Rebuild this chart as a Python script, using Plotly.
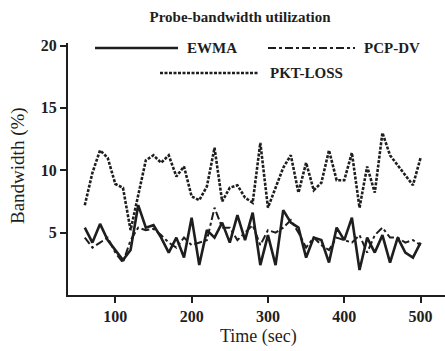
import plotly.graph_objects as go

time_sec = [60, 70, 80, 90, 100, 110, 120, 130, 140, 150, 160, 170, 180, 190, 200,
            210, 220, 230, 240, 250, 260, 270, 280, 290, 300, 310, 320, 330, 340, 350,
            360, 370, 380, 390, 400, 410, 420, 430, 440, 450, 460, 470, 480, 490, 500]

ewma = [5.4, 4.2, 5.7, 4.4, 3.6, 2.8, 3.6, 7.2, 5.4, 5.6, 4.6, 3.4, 4.6, 3.0, 6.2,
        2.4, 5.2, 4.6, 5.8, 4.2, 6.4, 4.4, 6.6, 2.4, 4.8, 2.4, 6.8, 5.8, 5.4, 3.0,
        4.6, 4.4, 2.6, 5.4, 4.4, 6.2, 2.0, 4.6, 3.4, 4.8, 2.6, 4.6, 3.4, 3.0, 4.2]

pcp_dv = [4.6, 3.8, 4.2, 4.6, 3.4, 2.6, 4.4, 5.4, 5.2, 5.3, 4.8, 4.2, 3.8, 4.6, 4.0,
          4.2, 4.4, 7.0, 5.4, 5.4, 4.4, 5.0, 5.6, 4.0, 5.2, 5.0, 5.4, 6.0, 5.0, 3.8,
          4.6, 4.0, 3.6, 4.6, 4.4, 4.2, 4.8, 3.4, 4.8, 5.4, 4.6, 4.6, 4.2, 4.4, 4.0]

pkt_loss = [7.2, 9.8, 11.6, 11.0, 8.9, 8.6, 5.2, 8.0, 10.8, 11.2, 10.6, 11.2, 9.5, 10.3, 7.9,
            7.6, 8.7, 11.8, 7.5, 8.6, 8.8, 7.8, 7.4, 12.2, 7.0, 8.6, 10.2, 11.2, 8.2, 10.6,
            8.4, 9.0, 11.6, 9.2, 9.2, 11.4, 7.0, 10.3, 8.2, 13.0, 11.2, 10.4, 9.6, 8.8, 11.0]

series_names = ["EWMA", "PCP-DV", "PKT-LOSS"]
x_ticks = [100, 200, 300, 400, 500]
y_ticks = [5, 10, 15, 20]

INK = "#1e1e1e"
SERIF = "Liberation Serif, Times New Roman, serif"
styles = {
    "EWMA": dict(width=2.6, dash="solid"),
    "PCP-DV": dict(width=2.0, dash="8px,3px,3px,3px"),
    "PKT-LOSS": dict(width=2.6, dash="3px,1.5px"),
}

fig = go.Figure()
for name, vals in zip(series_names, [ewma, pcp_dv, pkt_loss]):
    fig.add_trace(go.Scatter(x=time_sec, y=vals, mode="lines", name=name,
                             line=dict(color=INK, **styles[name]),
                             showlegend=False))

W, H = 445, 351
L, R, T, B = 68, 0, 43, 56
pw, ph = W - L - R, H - T - B

def px(xp):
    return (xp - L) / pw

def py(yp):
    return (H - B - yp) / ph

# manual legend (samples + labels)
legend_items = [
    ("EWMA", 95, 178, 48, 185),
    ("PCP-DV", 268, 355, 48, 362),
    ("PKT-LOSS", 160, 258, 73, 268),
]
for name, x0, x1, yy, tx in legend_items:
    fig.add_shape(type="line", xref="paper", yref="paper",
                  x0=px(x0), x1=px(x1), y0=py(yy), y1=py(yy),
                  line=dict(color=INK, **styles[name]))
    fig.add_annotation(xref="paper", yref="paper", x=px(tx), y=py(yy),
                       text=f"<b>{name}</b>", showarrow=False,
                       xanchor="left", yanchor="middle",
                       font=dict(family=SERIF, size=15, color=INK))

# axis titles
fig.add_annotation(xref="paper", yref="paper", x=px(258), y=py(336),
                   text="Time (sec)", showarrow=False,
                   xanchor="center", yanchor="middle",
                   font=dict(family=SERIF, size=18, color=INK))
fig.add_annotation(xref="paper", yref="paper", x=px(18), y=py(165),
                   text="Bandwidth (%)", showarrow=False, textangle=-90,
                   xanchor="center", yanchor="middle",
                   font=dict(family=SERIF, size=19, color=INK))

fig.update_layout(
    width=W, height=H,
    margin=dict(l=L, r=R, t=T, b=B),
    paper_bgcolor="white", plot_bgcolor="white",
    title=dict(text="<b>Probe-bandwidth utilization</b>",
               x=240 / W, xanchor="center", xref="container",
               y=1 - 17 / H, yanchor="middle", yref="container",
               font=dict(family=SERIF, size=15, color=INK)),
    font=dict(family=SERIF, color=INK),
)
fig.update_xaxes(range=[38, 532], tickvals=x_ticks,
                 ticktext=[f"<b>{v}</b>" for v in x_ticks],
                 showgrid=False, zeroline=False,
                 showline=True, linecolor=INK, linewidth=2,
                 ticks="outside", ticklen=6, tickwidth=2, tickcolor=INK,
                 tickfont=dict(family=SERIF, size=16, color=INK))
fig.update_yaxes(range=[0, 20.2], tickvals=y_ticks,
                 ticktext=[f"<b>{v}</b>" for v in y_ticks],
                 showgrid=False, zeroline=False,
                 showline=True, linecolor=INK, linewidth=2,
                 ticks="outside", ticklen=6, tickwidth=2, tickcolor=INK,
                 tickfont=dict(family=SERIF, size=16, color=INK))

fig.write_html("out.html", config={"displayModeBar": False})

# remove the browser's default 8px body margin so the figure sits at the page origin
with open("out.html", encoding="utf-8") as f:
    html = f.read()
html = html.replace("<body>", '<body style="margin:0;padding:0;">', 1)
with open("out.html", "w", encoding="utf-8") as f:
    f.write(html)
